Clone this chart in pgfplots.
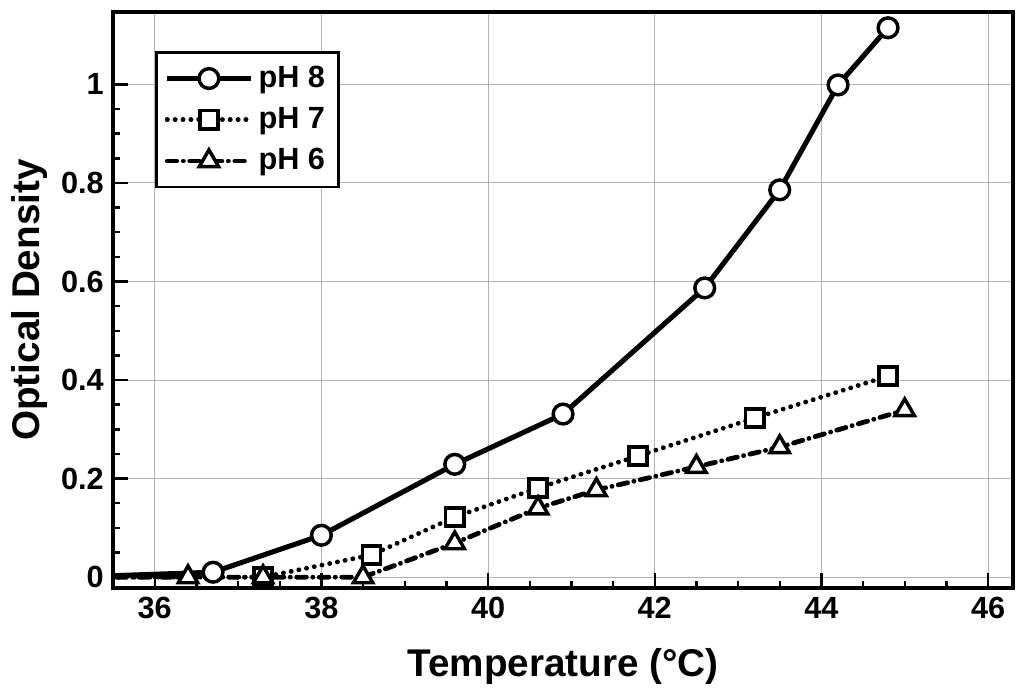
\documentclass[border=0pt]{standalone}
\usepackage{fontspec}
\setmainfont{Liberation Sans}
\usepackage{pgfplots}
\pgfplotsset{compat=1.18}
\usetikzlibrary{calc}

\begin{document}
\begin{tikzpicture}
\begin{axis}[
    name=ax,
    scale only axis,
    width=337.5pt,
    height=216pt,
    xmin=35.5, xmax=46.3,
    ymin=-0.022, ymax=1.147,
    xtick={36,38,...,46},
    ytick={0,0.2,...,1.0},
    minor x tick num=3,
    minor y tick num=3,
    yticklabel style={/pgf/number format/fixed},
    /pgf/number format/assume math mode=true,
    tick align=inside,
    xtick pos=left,
    ytick pos=left,
    major tick length=5.6pt,
    minor tick length=2.6pt,
    every tick/.style={black, line width=0.9pt},
    axis line style={line width=1.2pt},
    grid=major,
    grid style={gray!60, line width=0.4pt},
    clip mode=global,
    font=\fontsize{11.5}{13}\selectfont\bfseries,
    xlabel={Temperature (°C)},
    ylabel={Optical Density},
    label style={font=\fontsize{14.5}{16}\selectfont\bfseries},
    xlabel style={at={(axis description cs:0.5,-0.137)}, anchor=center},
    ylabel style={at={(axis description cs:-0.0933,0.5)}, rotate=0, anchor=center},
    legend style={at={(axis description cs:0.047,0.932)}, anchor=north west,
        draw=black, line width=1pt, inner sep=3pt, row sep=2pt,
        font=\fontsize{11.5}{13}\selectfont\bfseries},
    legend cell align=left,
    legend image code/.code={
        \draw[mark repeat=2, mark phase=2, #1]
            plot coordinates {(0cm,0cm) (0.55cm,0cm) (1.1cm,0cm)};
    },
]
\addplot[black, line width=1.9pt, mark=*, mark size=3.7pt,
    mark options={solid, fill=white, draw=black, line width=1.3pt}]
coordinates {
    (35.0,0.0) (36.7,0.010) (38.0,0.085) (39.6,0.229) (40.9,0.331)
    (42.6,0.587) (43.5,0.786) (44.2,0.999) (44.8,1.115)
};
\addlegendentry{pH 8}
\addplot[black, line width=1.8pt, line cap=round, dash pattern=on 0.05pt off 2.9pt,
    mark=square*, mark size=3.4pt,
    mark options={solid, fill=white, draw=black, line width=1.3pt}]
coordinates {
    (35.0,0.0) (37.3,0.0) (38.6,0.045) (39.6,0.122) (40.6,0.181)
    (41.8,0.246) (43.2,0.323) (44.8,0.408)
};
\addlegendentry{pH 7}
\addplot[black, line width=1.8pt, line cap=round,
    dash pattern=on 3.6pt off 2.4pt on 0.05pt off 2.4pt,
    mark=triangle*, mark size=4.2pt,
    mark options={solid, fill=white, draw=black, line width=1.3pt}]
coordinates {
    (35.0,0.0) (36.4,0.0) (37.3,0.0) (38.5,0.0) (39.6,0.069) (40.6,0.140)
    (41.3,0.177) (42.5,0.224) (43.5,0.264) (45.0,0.339)
};
\addlegendentry{pH 6}
\end{axis}
\pgfresetboundingbox
\path[use as bounding box] ($(ax.south west)+(-42.4pt,-40.9pt)$) rectangle ($(ax.south west)+(343.1pt,220.5pt)$);
\end{tikzpicture}
\end{document}
